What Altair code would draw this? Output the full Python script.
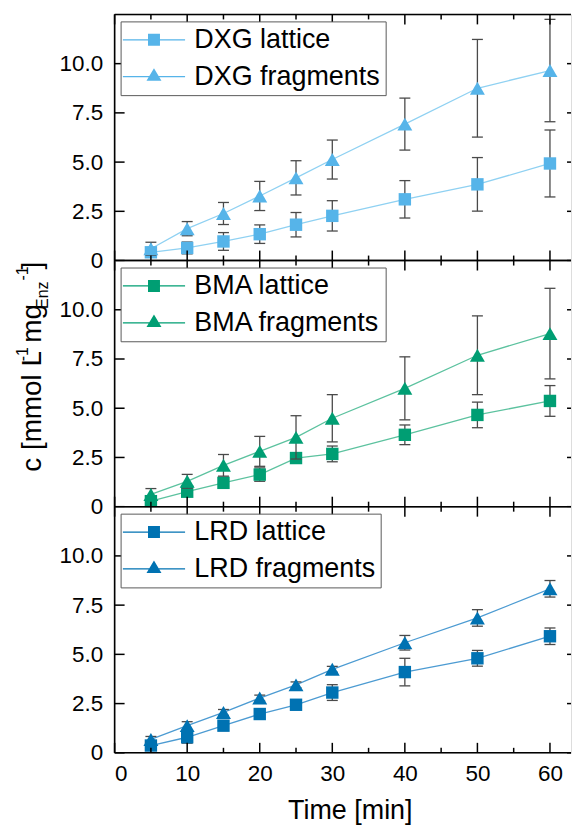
import altair as alt
import pandas as pd

# ---------------- data ----------------
time_min = [5, 10, 15, 20, 25, 30, 40, 50, 60]

dxg_lattice = [0.42, 0.64, 0.97, 1.34, 1.82, 2.27, 3.11, 3.87, 4.93]
dxg_lattice_err = [0.22, 0.30, 0.45, 0.47, 0.62, 0.77, 0.95, 1.36, 1.70]
dxg_fragments = [0.60, 1.62, 2.39, 3.28, 4.20, 5.13, 6.93, 8.75, 9.65]
dxg_fragments_err = [0.33, 0.36, 0.56, 0.74, 0.87, 0.99, 1.32, 2.48, 2.60]

bma_lattice = [0.28, 0.76, 1.21, 1.63, 2.47, 2.68, 3.65, 4.66, 5.37]
bma_lattice_err = [0.15, 0.20, 0.25, 0.34, 0.20, 0.40, 0.50, 0.65, 0.78]
bma_fragments = [0.62, 1.29, 2.10, 2.81, 3.52, 4.49, 6.01, 7.69, 8.79]
bma_fragments_err = [0.30, 0.35, 0.55, 0.76, 1.10, 1.20, 1.60, 2.00, 2.30]

lrd_lattice = [0.37, 0.79, 1.38, 1.97, 2.44, 3.06, 4.10, 4.80, 5.92]
lrd_lattice_err = [0.15, 0.30, 0.25, 0.20, 0.20, 0.40, 0.70, 0.40, 0.42]
lrd_fragments = [0.68, 1.38, 2.05, 2.78, 3.45, 4.24, 5.59, 6.85, 8.33]
lrd_fragments_err = [0.15, 0.20, 0.15, 0.15, 0.15, 0.15, 0.37, 0.42, 0.42]

x_major_ticks = [0, 10, 20, 30, 40, 50, 60]
x_minor_ticks = [5, 15, 25, 35, 45, 55]
y_ticks = [0, 2.5, 5.0, 7.5, 10.0]

x_title = "Time [min]"
y_title_parts = ["c [mmol L", "-1", "mg", "Enz", "-1", "]"]

# ---------------- style ----------------
FONT = "Liberation Sans"
W, H = 458, 247
X_MAX = 62.9
Y_MAX = 12.5

panels = [
    dict(name="DXG", lat=dxg_lattice, lat_err=dxg_lattice_err,
         frag=dxg_fragments, frag_err=dxg_fragments_err,
         marker="#56B4E9", line="#8FD1F2"),
    dict(name="BMA", lat=bma_lattice, lat_err=bma_lattice_err,
         frag=bma_fragments, frag_err=bma_fragments_err,
         marker="#009E73", line="#5CC29F"),
    dict(name="LRD", lat=lrd_lattice, lat_err=lrd_lattice_err,
         frag=lrd_fragments, frag_err=lrd_fragments_err,
         marker="#0072B2", line="#4C9BD2"),
]

# legend symbols: thin filled bar (the line) + marker, in symbol units (1 unit = 6 px)
LINE_BAR = "M-5.2,-0.1L5.2,-0.1L5.2,0.1L-5.2,0.1Z"
SQ_PATH = LINE_BAR + "M-1,-1L1,-1L1,1L-1,1Z"
TRI_PATH = LINE_BAR + "M0,-1.4L1.25,0.68L-1.25,0.68Z"

ERR_COLOR = "#4a4a4a"

xs = alt.Scale(domain=[0, X_MAX], nice=False, zero=False)
ys = alt.Scale(domain=[0, Y_MAX], nice=False, zero=False)


def series_df(values, errs, label):
    df = pd.DataFrame({"time": time_min, "value": values, "err": errs})
    df["lo"] = df["value"] - df["err"]
    df["hi"] = df["value"] + df["err"]
    df["series"] = label
    return df


def panel(p, bottom=False, with_ytitle=False):
    lat_name = f"{p['name']} lattice"
    frag_name = f"{p['name']} fragments"
    df_lat = series_df(p["lat"], p["lat_err"], lat_name)
    df_frag = series_df(p["frag"], p["frag_err"], frag_name)
    df_all = pd.concat([df_lat, df_frag], ignore_index=True)

    yaxis = alt.Axis(values=y_ticks,
                     labelExpr="datum.value == 0 ? '0' : format(datum.value, '.1f')",
                     ticks=False, domain=False, grid=False, labelFont=FONT,
                     labelFontSize=22.5, labelColor="black", labelPadding=12,
                     title=None)
    if bottom:
        xaxis = alt.Axis(values=x_major_ticks, format="d", ticks=False, domain=False,
                         grid=False, labelFont=FONT, labelFontSize=22.5,
                         labelColor="black", labelPadding=10, title=x_title,
                         titleFont=FONT, titleFontSize=27, titleFontWeight="normal",
                         titleColor="black", titlePadding=12, titleX=236)
    else:
        xaxis = alt.Axis(values=x_major_ticks, labels=False, ticks=False, domain=False,
                         grid=False, title=None)

    X = lambda f: alt.X(f, scale=xs, axis=xaxis)
    Y = lambda f: alt.Y(f, scale=ys, axis=yaxis)
    XD = lambda v: alt.XDatum(v, scale=xs, axis=xaxis)
    YD = lambda v: alt.YDatum(v, scale=ys, axis=yaxis)

    lines = alt.Chart(df_all).mark_line(color=p["line"], strokeWidth=1.3).encode(
        x=X("time:Q"), y=Y("value:Q"), detail="series:N")

    def err_layers(df):
        base = alt.Chart(df)
        bar = base.mark_rule(color=ERR_COLOR, strokeWidth=1.3).encode(
            x=X("time:Q"), y=Y("lo:Q"), y2="hi:Q")
        cap_lo = base.mark_tick(orient="horizontal", size=11, thickness=1.3,
                                color=ERR_COLOR, opacity=1).encode(x=X("time:Q"), y=Y("lo:Q"))
        cap_hi = base.mark_tick(orient="horizontal", size=11, thickness=1.3,
                                color=ERR_COLOR, opacity=1).encode(x=X("time:Q"), y=Y("hi:Q"))
        return [bar, cap_lo, cap_hi]

    lat_pts = alt.Chart(df_lat).mark_point(shape="square", filled=True, size=155,
                                           color=p["marker"], opacity=1).encode(
        x=X("time:Q"), y=Y("value:Q"))
    frag_pts = alt.Chart(df_frag).mark_point(shape="triangle-up", filled=True, size=225,
                                             color=p["marker"], opacity=1).encode(
        x=X("time:Q"), y=Y("value:Q"))

    # frame (left, top, bottom)
    frame_h = alt.Chart(pd.DataFrame({"v": [0, Y_MAX]})).mark_rule(
        color="black", strokeWidth=1.6).encode(y=Y("v:Q"))
    frame_v = alt.Chart(pd.DataFrame({"v": [0]})).mark_rule(
        color="black", strokeWidth=1.6).encode(x=X("v:Q"))

    # inward ticks
    ytk = pd.DataFrame({"v": y_ticks})
    y_left = alt.Chart(ytk).mark_rule(color="black", strokeWidth=1.5, x2Offset=10).encode(
        y=Y("v:Q"), x=XD(0), x2=alt.X2Datum(0))
    y_right = alt.Chart(ytk).mark_rule(color="black", strokeWidth=1.5, x2Offset=-4).encode(
        y=Y("v:Q"), x=XD(X_MAX), x2=alt.X2Datum(X_MAX))
    xmj = pd.DataFrame({"v": x_major_ticks})
    xmn = pd.DataFrame({"v": x_minor_ticks})
    x_bot_mj = alt.Chart(xmj).mark_rule(color="black", strokeWidth=1.5, y2Offset=-10).encode(
        x=X("v:Q"), y=YD(0), y2=alt.Y2Datum(0))
    x_bot_mn = alt.Chart(xmn).mark_rule(color="black", strokeWidth=1.5, y2Offset=-5).encode(
        x=X("v:Q"), y=YD(0), y2=alt.Y2Datum(0))
    x_top_mj = alt.Chart(xmj).mark_rule(color="black", strokeWidth=1.5, y2Offset=10).encode(
        x=X("v:Q"), y=YD(Y_MAX), y2=alt.Y2Datum(Y_MAX))
    x_top_mn = alt.Chart(xmn).mark_rule(color="black", strokeWidth=1.5, y2Offset=5).encode(
        x=X("v:Q"), y=YD(Y_MAX), y2=alt.Y2Datum(Y_MAX))

    # legend generator (invisible marks, custom line+marker symbols)
    legend_layer = alt.Chart(df_all).mark_point(
        filled=True, size=0, color=p["marker"], opacity=1).encode(
        x=X("time:Q"), y=Y("value:Q"),
        shape=alt.Shape("series:N",
                        scale=alt.Scale(domain=[lat_name, frag_name],
                                        range=[SQ_PATH, TRI_PATH]),
                        legend=alt.Legend(title=None, orient="none", legendX=6, legendY=7,
                                          padding=5, strokeColor="#5a5a5a", fillColor="white",
                                          symbolSize=144, symbolOffset=15, labelOffset=27,
                                          labelFont=FONT, labelFontSize=27, labelColor="black",
                                          labelLimit=400, rowPadding=9,
                                          symbolStrokeWidth=0,
                                          symbolFillColor=p["marker"])),
    )

    layers = [lines] + err_layers(df_lat) + [lat_pts] + err_layers(df_frag) + [frag_pts] + [
        frame_h, frame_v, y_left, y_right, x_bot_mj, x_bot_mn, x_top_mj, x_top_mn,
        legend_layer]

    if with_ytitle:
        one = pd.DataFrame({"a": [0]})
        specs = [
            (y_title_parts[0], 28, -74, 212),
            (y_title_parts[1], 16, -86.5, 101),
            (y_title_parts[2], 28, -74, 82.5),
            (y_title_parts[3], 16, -66.5, 48.5),
            (y_title_parts[4], 16, -86.5, 20),
            (y_title_parts[5], 28, -74, 9),
        ]
        for txt, fs, px, py in specs:
            layers.append(alt.Chart(one).mark_text(
                text=txt, angle=270, align="left", baseline="alphabetic",
                font=FONT, fontSize=fs, color="black").encode(
                x=alt.value(px), y=alt.value(py)))

    return alt.layer(*layers).properties(width=W, height=H)


chart = alt.vconcat(
    panel(panels[0]),
    panel(panels[1], with_ytitle=True),
    panel(panels[2], bottom=True),
    spacing=0, bounds="flush",
).resolve_scale(shape="independent").resolve_legend(shape="independent").properties(
    padding={"left": 7, "top": 3, "right": 0, "bottom": 0}
).configure_view(stroke=None).configure_legend(strokeWidth=1.5).configure(
    background="white")

chart.save("out.html", embed_options={"renderer": "svg", "actions": False})
